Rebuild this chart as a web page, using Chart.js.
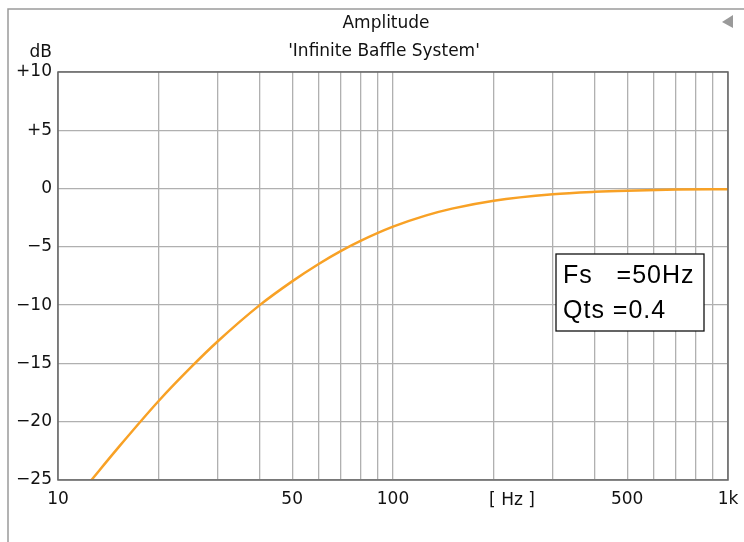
<!DOCTYPE html>
<html>
<head>
<meta charset="utf-8">
<script src="https://cdn.jsdelivr.net/npm/chart.js@4/dist/chart.umd.min.js"></script>
<style>
  html, body { margin: 0; padding: 0; background: #fff; }
  #wrap { width: 744px; height: 542px; }
</style>
</head>
<body>
<div id="wrap"><canvas id="amp" width="744" height="542"></canvas></div>
<script>
// ---- data ----
const freqs  = [12.5, 15, 20, 25, 30, 40, 50, 60, 70, 80, 100, 125, 150, 200, 300, 400, 500, 700, 1000];
const levels = [-25.1, -22.35, -18.2, -15.3, -13.1, -10.0, -7.96, -6.47, -5.35, -4.49, -3.27, -2.32, -1.72, -1.04, -0.49, -0.28, -0.18, -0.09, -0.05];

const gridFreqs  = [10, 20, 30, 40, 50, 60, 70, 80, 90, 100, 200, 300, 400, 500, 600, 700, 800, 900, 1000];
const freqLabels = { 10: '10', 50: '50', 100: '100', 500: '500', 1000: '1k' };
const dbLabels   = { 10: '+10', 5: '+5', 0: '0', '-5': '\u22125', '-10': '\u221210', '-15': '\u221215', '-20': '\u221220', '-25': '\u221225' };

const titleText = 'Amplitude';
const subText   = "'Infinite Baffle System'";
const boxLines  = ['Fs   =50Hz', 'Qts =0.4'];

const FONT = '"DejaVu Sans", sans-serif';

// ---- extras drawn on top ----
const decor = {
  id: 'decor',
  afterDraw(chart) {
    const ctx = chart.ctx;
    const a = chart.chartArea;
    ctx.save();

    // window frame
    ctx.strokeStyle = '#9a9a9a';
    ctx.lineWidth = 1.5;
    ctx.beginPath();
    ctx.moveTo(744, 9);
    ctx.lineTo(8, 9);
    ctx.lineTo(8, 542);
    ctx.stroke();

    // small triangle
    ctx.fillStyle = '#9a9a9a';
    ctx.beginPath();
    ctx.moveTo(722, 22);
    ctx.lineTo(733, 15);
    ctx.lineTo(733, 28);
    ctx.closePath();
    ctx.fill();

    // plot border
    ctx.strokeStyle = '#666';
    ctx.lineWidth = 1.5;
    ctx.strokeRect(a.left, a.top, a.right - a.left, a.bottom - a.top);

    // titles
    ctx.fillStyle = '#111';
    ctx.textAlign = 'center';
    ctx.textBaseline = 'alphabetic';
    ctx.font = '17px ' + FONT;
    ctx.fillText(titleText, 386, 28);
    ctx.fillText(subText, 384, 56);

    ctx.textAlign = 'right';
    ctx.fillText('dB', 52, 57);

    ctx.textAlign = 'center';
    ctx.fillText('[ Hz ]', 512, 505);

    // parameter box
    ctx.fillStyle = '#fff';
    ctx.fillRect(556, 254, 148, 77);
    ctx.strokeStyle = '#111';
    ctx.lineWidth = 1.3;
    ctx.strokeRect(556, 254, 148, 77);
    ctx.fillStyle = '#000';
    ctx.textAlign = 'left';
    ctx.font = '25px "Liberation Sans", sans-serif';
    ctx.letterSpacing = '1px';
    ctx.fillText(boxLines[0], 563, 283);
    ctx.fillText(boxLines[1], 563, 318);

    ctx.restore();
  }
};

new Chart(document.getElementById('amp'), {
  type: 'line',
  data: {
    datasets: [{
      data: freqs.map((f, i) => ({ x: f, y: levels[i] })),
      borderColor: '#f8a125',
      borderWidth: 2.5,
      pointRadius: 0,
      cubicInterpolationMode: 'monotone',
      fill: false
    }]
  },
  options: {
    responsive: false,
    animation: false,
    layout: { padding: { top: 72, right: 16, left: 0, bottom: 0 } },
    plugins: { legend: { display: false }, tooltip: { enabled: false } },
    scales: {
      x: {
        type: 'logarithmic',
        min: 10,
        max: 1000,
        afterBuildTicks: s => { s.ticks = gridFreqs.map(v => ({ value: v })); },
        afterFit: s => { s.height = 62; s.paddingLeft = 0; s.paddingRight = 0; },
        grid: { color: '#b0b0b0', lineWidth: 1.3, drawTicks: false },
        border: { display: false },
        ticks: {
          autoSkip: false,
          maxRotation: 0,
          padding: 9,
          color: '#111',
          font: { family: FONT, size: 17 },
          callback: v => freqLabels[v] || ''
        }
      },
      y: {
        min: -25,
        max: 10,
        afterFit: s => { s.width = 58; s.paddingTop = 0; s.paddingBottom = 0; },
        grid: { color: '#b0b0b0', lineWidth: 1.3, drawTicks: false },
        border: { display: false },
        ticks: {
          stepSize: 5,
          padding: 6,
          color: '#111',
          font: { family: FONT, size: 17 },
          callback: v => dbLabels[v] || ''
        }
      }
    }
  },
  plugins: [decor]
});
</script>
</body>
</html>
